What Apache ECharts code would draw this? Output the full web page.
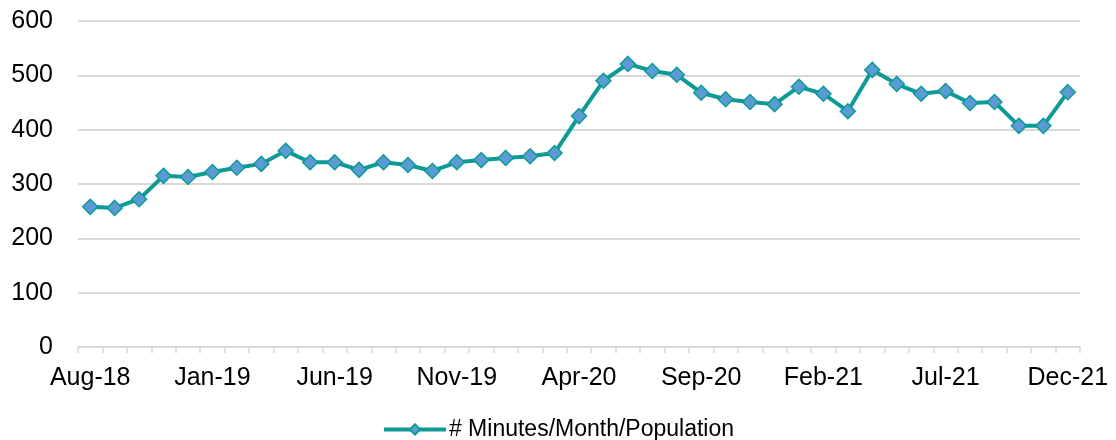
<!DOCTYPE html>
<html>
<head>
<meta charset="utf-8">
<script src="https://cdn.jsdelivr.net/npm/echarts@6/dist/echarts.min.js"></script>
<style>
  html, body { margin: 0; padding: 0; background: #fff; }
  #chart { width: 1116px; height: 440px; }
</style>
</head>
<body>
<div id="chart"></div>
<script>
// monthly categories, Aug-18 .. Dec-21
var months = [
  'Aug-18', 'Sep-18', 'Oct-18', 'Nov-18', 'Dec-18',
  'Jan-19', 'Feb-19', 'Mar-19', 'Apr-19', 'May-19', 'Jun-19', 'Jul-19', 'Aug-19', 'Sep-19', 'Oct-19', 'Nov-19', 'Dec-19',
  'Jan-20', 'Feb-20', 'Mar-20', 'Apr-20', 'May-20', 'Jun-20', 'Jul-20', 'Aug-20', 'Sep-20', 'Oct-20', 'Nov-20', 'Dec-20',
  'Jan-21', 'Feb-21', 'Mar-21', 'Apr-21', 'May-21', 'Jun-21', 'Jul-21', 'Aug-21', 'Sep-21', 'Oct-21', 'Nov-21', 'Dec-21'
];

var minutesPerPop = [
  258, 256, 272, 315, 313,
  322, 330, 337, 361, 340, 340, 326, 340, 335, 324, 340, 344,
  348, 351, 357, 425, 490, 521, 508, 501, 468, 456, 451, 447,
  479, 466, 434, 510, 484, 466, 471, 449, 451, 407, 407, 469
];

var seriesName = '# Minutes/Month/Population';

var myChart = echarts.init(document.getElementById('chart'));

var font = 'Liberation Sans, Arial, sans-serif';

var option = {
  animation: false,
  textStyle: { fontFamily: font },
  grid: { left: 78, right: 36, top: 21, bottom: 93, containLabel: false },
  legend: {
    top: 413,
    left: 'center',
    itemWidth: 62,
    itemHeight: 13,
    lineStyle: { width: 4 },
    textStyle: { fontSize: 23, color: '#000', fontFamily: font, padding: [0, 0, 0, -2] },
    data: [seriesName]
  },
  xAxis: {
    type: 'category',
    data: months,
    boundaryGap: true,
    axisLine: { lineStyle: { color: '#d9d9d9', width: 2 } },
    axisTick: { show: true, interval: 0, length: 6, lineStyle: { color: '#d9d9d9', width: 1.5 } },
    axisLabel: { interval: 4, fontSize: 25, color: '#000', margin: 19 }
  },
  yAxis: {
    type: 'value',
    min: 0,
    max: 600,
    interval: 100,
    axisLine: { show: false },
    axisTick: { show: false },
    axisLabel: { fontSize: 25, color: '#000', margin: 25 },
    splitLine: { lineStyle: { color: '#d9d9d9', width: 2 } }
  },
  series: [
    {
      name: seriesName,
      type: 'line',
      data: minutesPerPop,
      symbol: 'diamond',
      symbolSize: 15,
      lineStyle: { color: '#0e9b96', width: 4 },
      itemStyle: { color: '#5b9bd5', borderColor: '#0e9b96', borderWidth: 1.5 }
    }
  ]
};

myChart.setOption(option);
</script>
</body>
</html>
